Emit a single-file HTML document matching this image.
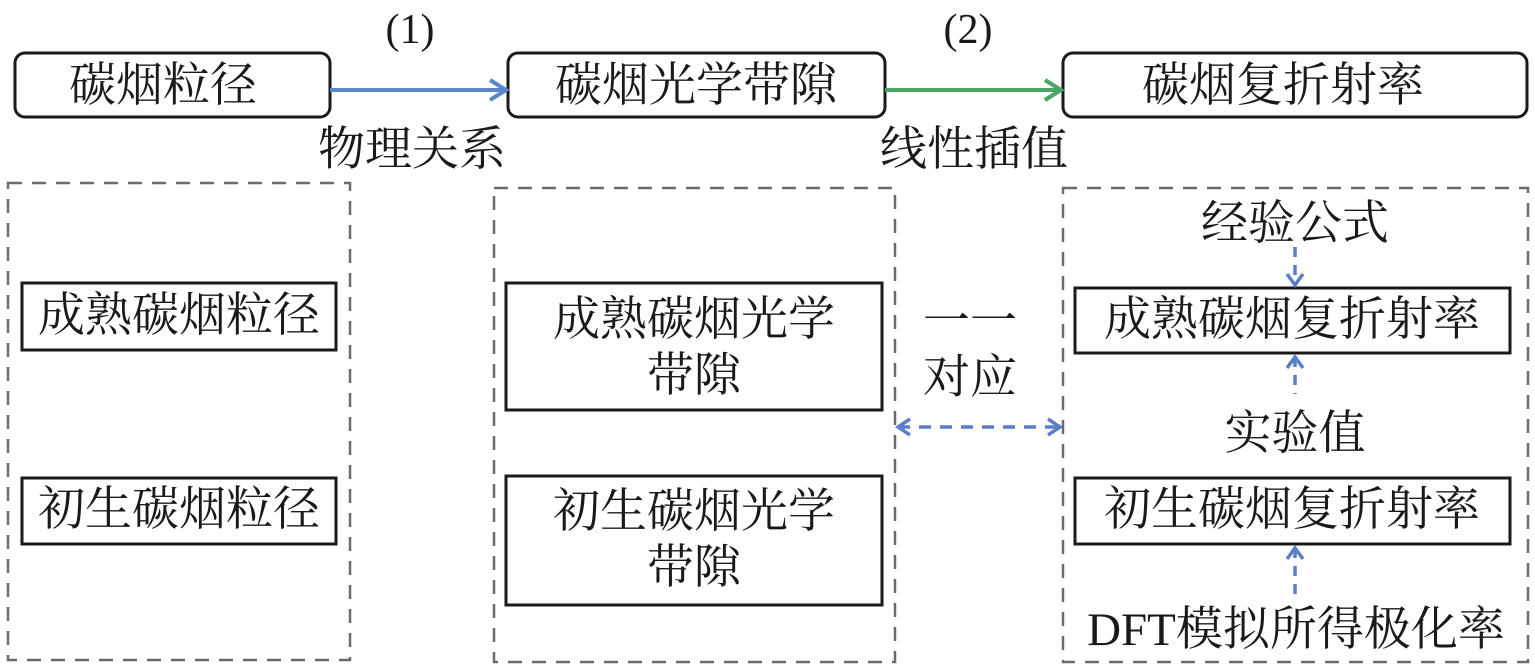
<!DOCTYPE html>
<html><head><meta charset="utf-8"><style>
html,body{margin:0;padding:0;background:#fff;}
svg{display:block}
text{font-family:"Liberation Serif","Noto Serif CJK SC",serif;font-size:47px;fill:#1a1a1a;text-anchor:middle;dominant-baseline:central}
text.n{font-size:42px}
</style></head><body>
<svg width="1535" height="667" viewBox="0 0 1535 667">
<g fill="none" stroke="#1a1a1a" stroke-width="3">
<rect x="15" y="53" width="315" height="64" rx="10"/>
<rect x="508" y="53" width="377" height="64" rx="10"/>
<rect x="1063" y="53" width="464" height="64" rx="10"/>
<rect x="22" y="283" width="314" height="67"/>
<rect x="22" y="478" width="314" height="66"/>
<rect x="506" y="283" width="376" height="127"/>
<rect x="506" y="476" width="376" height="129"/>
<rect x="1075" y="288" width="435" height="65"/>
<rect x="1075" y="478" width="435" height="66"/>
</g>
<g fill="none" stroke="#6b6b6b" stroke-width="2.5" stroke-dasharray="14,10">
<rect x="8" y="183" width="342" height="477"/>
<rect x="494" y="188" width="401" height="474"/>
<rect x="1063" y="188" width="465" height="474"/>
</g>
<g fill="none" stroke-width="4">
<line x1="330" y1="90" x2="506" y2="90" stroke="#5b87c9"/>
<polyline points="490,80 506,90 490,100" stroke="#5b87c9"/>
<line x1="885" y1="90" x2="1061" y2="90" stroke="#4aa564"/>
<polyline points="1045,80 1061,90 1045,100" stroke="#4aa564"/>
</g>
<g fill="none" stroke="#5b7fc6" stroke-width="3.5">
<line x1="898" y1="427" x2="1060" y2="427" stroke-dasharray="12,9"/>
<polyline points="910,419 898,427 910,435"/>
<polyline points="1048,419 1060,427 1048,435"/>
<line x1="1295" y1="247" x2="1295" y2="284" stroke-dasharray="10,8"/>
<polyline points="1287,274 1295,285 1303,274"/>
<line x1="1295" y1="357" x2="1295" y2="394" stroke-dasharray="10,8"/>
<polyline points="1287,368 1295,357 1303,368"/>
<line x1="1295" y1="548" x2="1295" y2="598" stroke-dasharray="10,8"/>
<polyline points="1287,559 1295,548 1303,559"/>
</g>
<text x="163" y="86">碳烟粒径</text>
<text x="696" y="86">碳烟光学带隙</text>
<text x="1283" y="86">碳烟复折射率</text>
<text class="n" x="410" y="30">(1)</text>
<text class="n" x="968" y="30">(2)</text>
<text x="412" y="150">物理关系</text>
<text x="974" y="150">线性插值</text>
<text x="179" y="316">成熟碳烟粒径</text>
<text x="179" y="510">初生碳烟粒径</text>
<text x="694" y="320">成熟碳烟光学</text>
<text x="694" y="376">带隙</text>
<text x="694" y="512">初生碳烟光学</text>
<text x="694" y="568">带隙</text>
<text x="970" y="322">一一</text>
<text x="970" y="378">对应</text>
<text x="1295" y="224">经验公式</text>
<text x="1292" y="320">成熟碳烟复折射率</text>
<text x="1295" y="434">实验值</text>
<text x="1292" y="510">初生碳烟复折射率</text>
<text x="1296" y="630">DFT模拟所得极化率</text>
</svg>
</body></html>
